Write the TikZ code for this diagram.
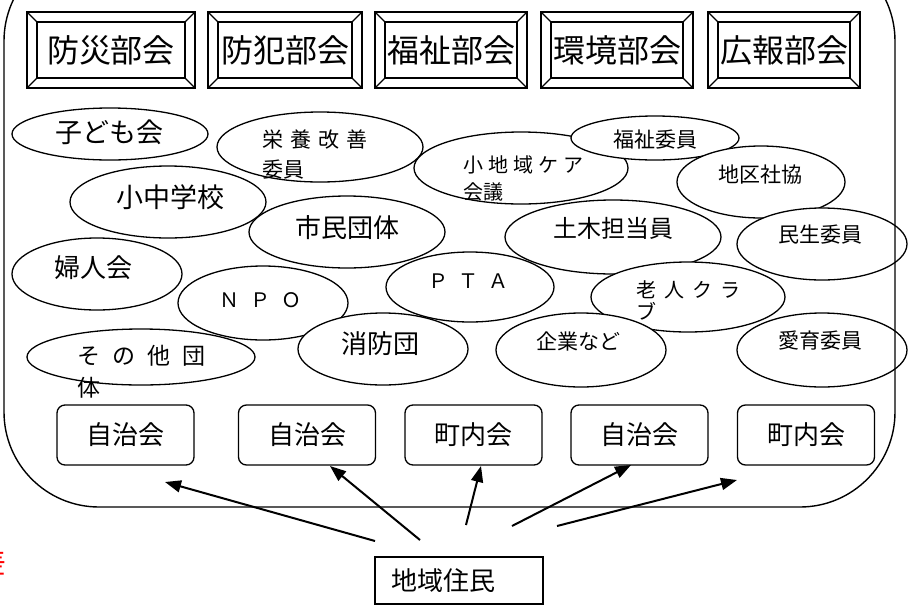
\documentclass[tikz,border=0pt]{standalone}
\usepackage{fontspec}
\setmainfont{Noto Sans CJK JP}
\usetikzlibrary{arrows.meta,shapes.geometric}
\tikzset{
  frame/.style={line width=1.4pt, rounded corners=95pt},
  bevelbox/.style={draw, line width=1.1pt, minimum height=76pt, inner sep=0pt,
    font=\fontsize{32}{36}\selectfont,
    path picture={
      \draw[line width=1.1pt]
        ([shift={(10pt,-10pt)}]path picture bounding box.north west) rectangle
        ([shift={(-10pt,10pt)}]path picture bounding box.south east);
      \draw[line width=1.1pt] (path picture bounding box.north west) -- ([shift={(10pt,-10pt)}]path picture bounding box.north west);
      \draw[line width=1.1pt] (path picture bounding box.north east) -- ([shift={(-10pt,-10pt)}]path picture bounding box.north east);
      \draw[line width=1.1pt] (path picture bounding box.south west) -- ([shift={(10pt,10pt)}]path picture bounding box.south west);
      \draw[line width=1.1pt] (path picture bounding box.south east) -- ([shift={(-10pt,10pt)}]path picture bounding box.south east);
    }},
  oval/.style={draw, ellipse, fill=white, line width=1.3pt, inner sep=0pt},
  txt/.style={inner sep=0pt},
  big/.style={font=\fontsize{27}{30}\selectfont},
  mid/.style={font=\fontsize{26}{30}\selectfont},
  small/.style={font=\fontsize{21}{26}\selectfont},
  kaibox/.style={draw, rounded corners=8pt, fill=white, line width=1.3pt,
    minimum width=137pt, minimum height=60pt, inner sep=0pt,
    font=\fontsize{26}{30}\selectfont},
  arr/.style={-{Triangle[length=16pt,width=12pt]}, line width=2pt},
}
\begin{document}
\begin{tikzpicture}[x=1pt,y=-1pt]
\clip (0,0) rectangle (914,606);
\fill[white] (0,0) rectangle (914,606);

% top boxes
\node[bevelbox, minimum width=168pt] (b1) at (111,50) {防災部会};
\node[bevelbox, minimum width=154pt] (b2) at (285,50) {防犯部会};
\node[bevelbox, minimum width=152pt] (b3) at (451,50) {福祉部会};
\node[bevelbox, minimum width=152pt] (b4) at (617,50) {環境部会};
\node[bevelbox, minimum width=152pt] (b5) at (784,50) {広報部会};

% ellipses
\node[oval, minimum width=196pt, minimum height=52pt] (kodomo) at (110,134) {};
\node[oval, minimum width=206pt, minimum height=70pt] (eiyou) at (320,147) {};
\node[oval, minimum width=196pt, minimum height=72pt] (shochu) at (168,202) {};
\node[oval, minimum width=196pt, minimum height=72pt] (shimin) at (347,232) {};
\node[oval, minimum width=170pt, minimum height=72pt] (fujin) at (97,274) {};
\node[oval, minimum width=170pt, minimum height=74pt] (npo) at (263,303) {};
\node[oval, minimum width=228pt, minimum height=56pt] (sonota) at (141,357) {};
\node[oval, minimum width=170pt, minimum height=72pt] (shobo) at (383,349) {};
\node[oval, minimum width=214pt, minimum height=72pt] (kochiiki) at (521,168) {};
\node[oval, minimum width=168pt, minimum height=44pt] (fukushi) at (655,138) {};
\node[oval, minimum width=168pt, minimum height=72pt] (chiku) at (761,182) {};
\node[oval, minimum width=216pt, minimum height=74pt] (doboku) at (613,237) {};
\node[oval, minimum width=170pt, minimum height=72pt] (minsei) at (822,244) {};
\node[oval, minimum width=168pt, minimum height=70pt] (pta) at (470,287) {};
\node[oval, minimum width=194pt, minimum height=70pt] (rojin) at (688,297) {};
\node[oval, minimum width=170pt, minimum height=74pt] (kigyo) at (581,350) {};
\node[oval, minimum width=170pt, minimum height=74pt] (aiiku) at (822,350) {};

% container (drawn over the ellipses it crosses)
\draw[frame] (4,-54) rectangle (895,507);

% ellipse texts
\node[txt, big] (kodomo-t) at (110,132) {子ども会};
\node[txt, big] (shochu-t) at (170,197) {小中学校};
\node[txt, mid] (shimin-t) at (347,228) {市民団体};
\node[txt, mid] (fujin-t) at (93,268) {婦人会};
\node[txt, font=\fontsize{20}{24}\selectfont] (npo-t) at (260,300) {Ｎ\hspace{11pt}Ｐ\hspace{11pt}Ｏ};
\node[txt, font=\fontsize{20}{24}\selectfont] (pta-t) at (468,281) {Ｐ\hspace{10pt}Ｔ\hspace{10pt}Ａ};
\node[txt, mid] (shobo-t) at (380,344) {消防団};
\node[txt, small] (fukushi-t) at (655,140) {福祉委員};
\node[txt, small] (chiku-t) at (760,175) {地区社協};
\node[txt, font=\fontsize{24}{28}\selectfont] (doboku-t) at (613,228) {土木担当員};
\node[txt, small] (minsei-t) at (820,235) {民生委員};
\node[txt, small] (kigyo-t) at (578,341) {企業など};
\node[txt, small] (aiiku-t) at (820,341) {愛育委員};

\node[txt, anchor=north west, align=left, font=\fontsize{21}{30}\selectfont] (eiyou-t) at (262,130)
  {栄\hspace{7pt}養\hspace{7pt}改\hspace{7pt}善\\委員};
\node[txt, anchor=north west, align=left, font=\fontsize{20}{27}\selectfont] (kochiiki-t) at (463,155)
  {小\hspace{5pt}地\hspace{5pt}域\hspace{5pt}ケ\hspace{5pt}ア\\会議};
\node[txt, anchor=north west, align=left, font=\fontsize{23}{32}\selectfont] (sonota-t) at (77,345)
  {そ\hspace{12pt}の\hspace{12pt}他\hspace{12pt}団\\体};
\node[txt, anchor=north west, align=left, font=\fontsize{20}{22}\selectfont] (rojin-t) at (636,280)
  {老\hspace{8pt}人\hspace{8pt}ク\hspace{8pt}ラ\\ブ};

% bottom boxes
\node[kaibox] (k1) at (125.5,435) {自治会};
\node[kaibox] (k2) at (307,435) {自治会};
\node[kaibox] (k3) at (473.5,435) {町内会};
\node[kaibox] (k4) at (639.5,435) {自治会};
\node[kaibox] (k5) at (806,435) {町内会};

% residents
\node[draw, line width=1.3pt, minimum height=47pt, text width=136pt, inner xsep=16pt,
      align=left, font=\fontsize{26}{30}\selectfont] (jumin) at (459,580.5) {地域住民};

% arrows
\coordinate (t1) at (375,541); \coordinate (h1) at (165,482);
\coordinate (t2) at (420,540); \coordinate (h2) at (330,466);
\coordinate (t3) at (466,525); \coordinate (h3) at (481,466);
\coordinate (t4) at (512,526); \coordinate (h4) at (631,465);
\coordinate (t5) at (557,526); \coordinate (h5) at (737,480);
\draw[arr] (t1) -- (h1);
\draw[arr] (t2) -- (h2);
\draw[arr] (t3) -- (h3);
\draw[arr] (t4) -- (h4);
\draw[arr] (t5) -- (h5);

% clipped red mark at left edge
\node[txt, anchor=east, text=red, font=\fontsize{30}{34}\selectfont] (redmark) at (7,562) {差};
\end{tikzpicture}
\end{document}
